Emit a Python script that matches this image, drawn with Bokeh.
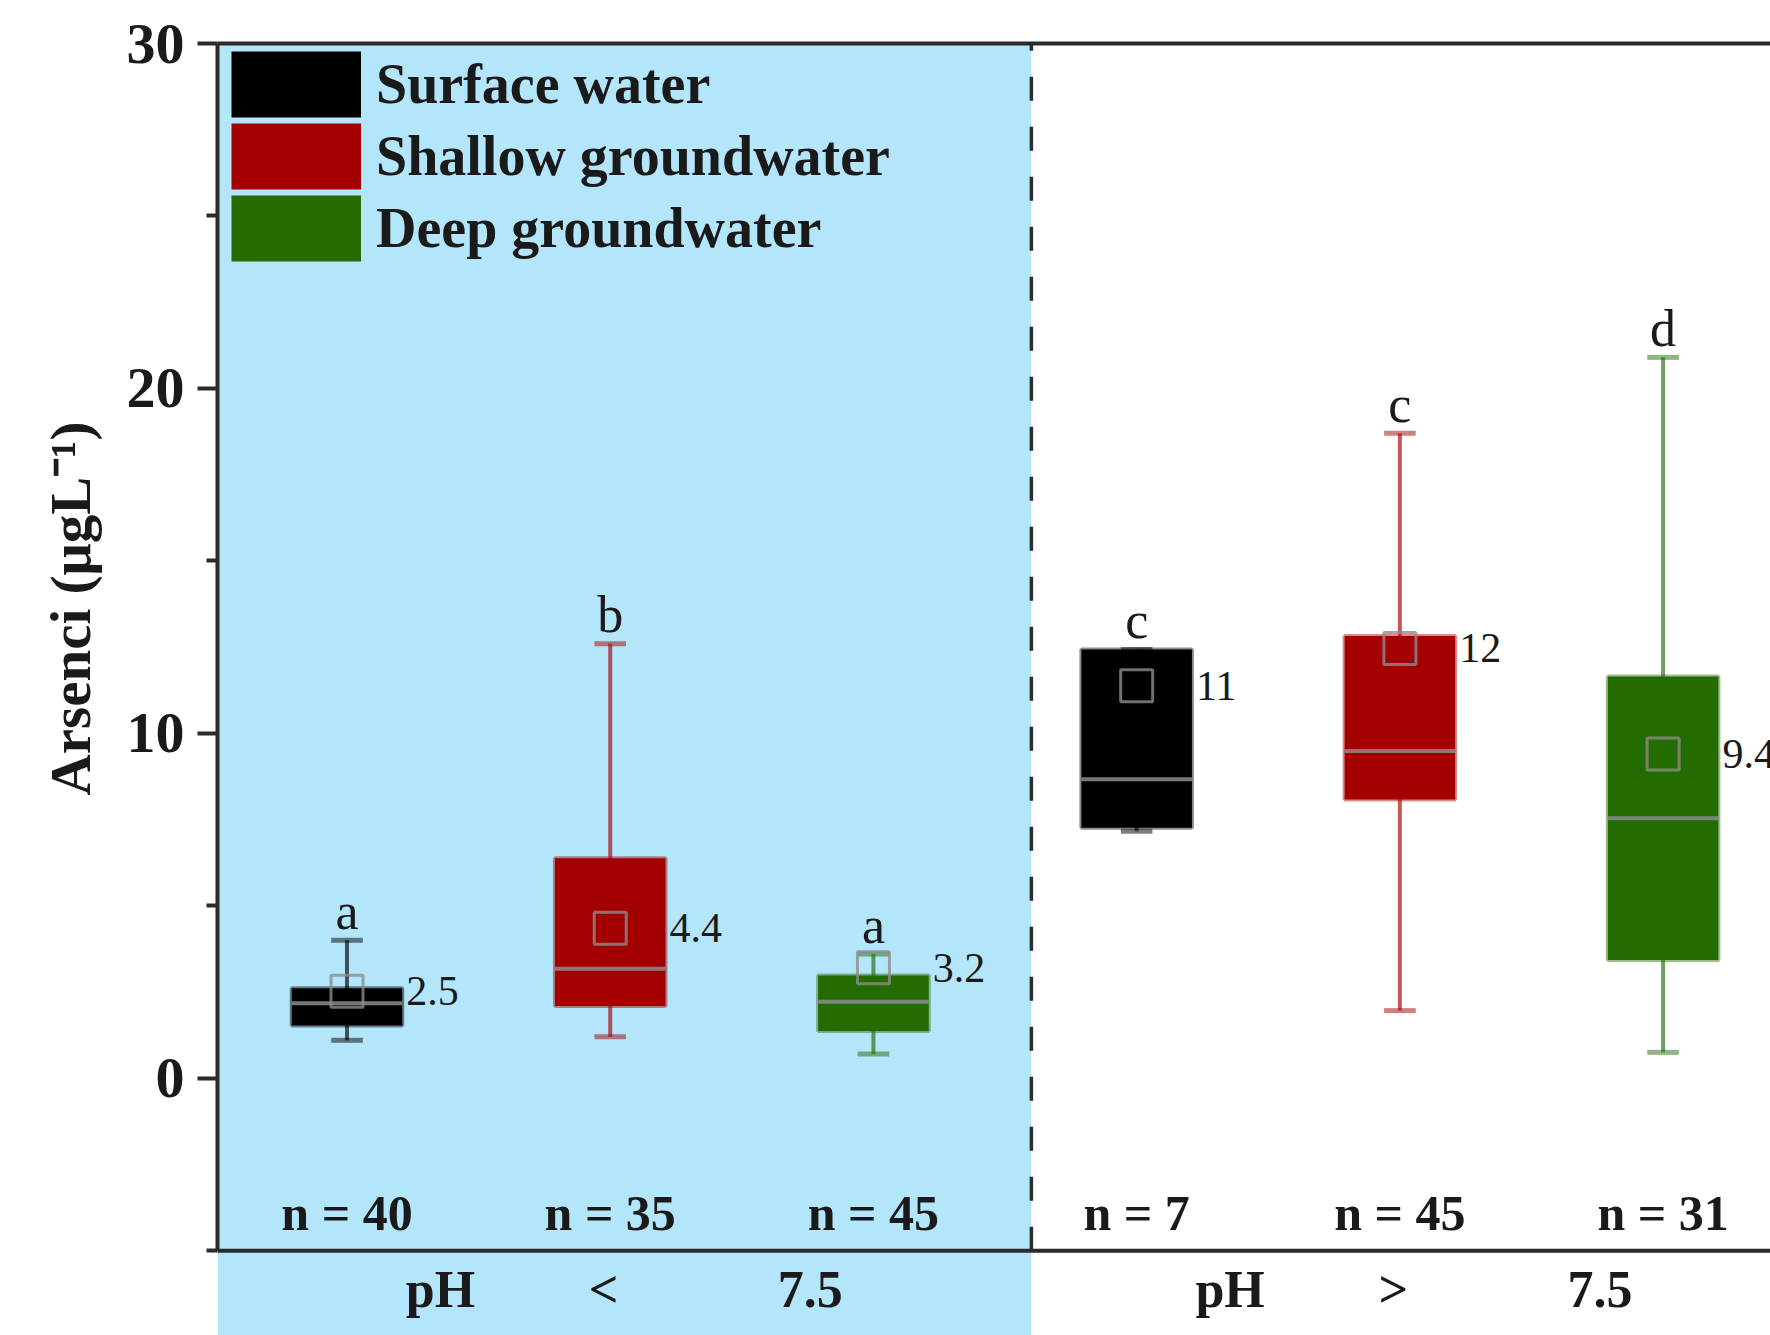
from bokeh.plotting import figure
from bokeh.models import (Range1d, LinearAxis, FixedTicker, Span, Legend, LegendItem,
                          ColumnDataSource, Title)
from bokeh.embed import file_html
from bokeh.resources import INLINE
from bokeh.core.properties import value

# ---------------- data ----------------
categories = ["Surface water", "Shallow groundwater", "Deep groundwater"]
ph_groups = ["pH < 7.5", "pH > 7.5"]
series_colors = ["#000000", "#A50000", "#246B00"]

whisker_low = [1.10, 1.20, 0.70, 7.16, 1.96, 0.75]
q1 = [1.53, 2.09, 1.37, 7.26, 8.08, 3.43]
median = [2.17, 3.17, 2.22, 8.67, 9.49, 7.54]
q3 = [2.61, 6.38, 2.98, 12.43, 12.82, 11.65]
whisker_high = [4.00, 12.60, 3.60, 12.43, 18.70, 20.90]
mean = [2.52, 4.35, 3.20, 11.38, 12.46, 9.40]
mean_labels = ["2.5", "4.4", "3.2", "11", "12", "9.4"]
letters = ["a", "b", "a", "c", "c", "d"]
n_counts = [40, 35, 45, 7, 45, 31]
y_ticks = [0, 10, 20, 30]
y_minor_ticks = [-5, 5, 15, 25]

# ---------------- style ----------------
FONT = "Liberation Serif"
INK = "#1a1a1a"
AXIS = "#2b2b2b"
BLUE = "#B3E5FB"
BOX_W = 0.42
CAP_W = 0.12
Y_MIN_AXIS = -5
N_LABEL_Y = -3.9
PH_LABEL_Y = -6.12

nb = len(categories) * len(ph_groups)
pos = [i + 1 for i in range(nb)]
cols = [series_colors[i % len(categories)] for i in range(nb)]
divider_x = len(categories) + 0.6

p = figure(width=1770, height=1335, output_backend="svg", toolbar_location=None,
           x_range=Range1d(0.508, 6.408), y_range=Range1d(-7.46, 30),
           min_border_left=217, min_border_top=43, min_border_bottom=0,
           min_border_right=0, x_axis_location=None)
p.grid.visible = False
p.outline_line_color = None
p.background_fill_color = "white"
p.border_fill_color = "white"

# shaded pH < 7.5 region
p.quad(left=[p.x_range.start], right=[divider_x], bottom=[p.y_range.start], top=[y_ticks[-1]],
       fill_color=BLUE, line_color=None)

# divider
p.segment(x0=[divider_x], y0=[Y_MIN_AXIS], x1=[divider_x], y1=[y_ticks[-1]],
          line_color=AXIS, line_width=3.5, line_dash="24 26")

# bottom axis line
p.add_layout(Span(location=Y_MIN_AXIS, dimension="width", line_color=AXIS, line_width=4))

src = ColumnDataSource(dict(
    x=pos, lo=whisker_low, q1=q1, med=median, q3=q3, hi=whisker_high, mean=mean,
    left=[x - BOX_W / 2 for x in pos], right=[x + BOX_W / 2 for x in pos],
    cl=[x - CAP_W / 2 for x in pos], cr=[x + CAP_W / 2 for x in pos],
    color=cols, mlab=mean_labels, letter=letters,
    top=[max(a, b) for a, b in zip(whisker_high, q3)],
    ntext=[f"n = {n}" for n in n_counts], ny=[N_LABEL_Y] * nb,
))

# whiskers and caps
p.segment(x0="x", y0="lo", x1="x", y1="hi", source=src, line_color="color",
          line_alpha=0.65, line_width=4)
p.segment(x0="cl", y0="lo", x1="cr", y1="lo", source=src, line_color="color",
          line_alpha=0.5, line_width=5)
p.segment(x0="cl", y0="hi", x1="cr", y1="hi", source=src, line_color="color",
          line_alpha=0.5, line_width=5)

# boxes
p.quad(left="left", right="right", bottom="q1", top="q3", source=src,
       fill_color="color", line_color="color", line_alpha=0.45, line_width=4)

# medians
p.segment(x0="left", y0="med", x1="right", y1="med", source=src,
          line_color="#8c8c8c", line_alpha=0.85, line_width=4)

# means
p.scatter(x="x", y="mean", source=src, marker="square", size=32, fill_color=None,
          line_color="#8c8c8c", line_alpha=0.8, line_width=3)

# mean labels
p.text(x="right", y="mean", text="mlab", source=src, x_offset=4,
       text_align="left", text_baseline="middle", text_font=value(FONT),
       text_font_size="42px", text_color=INK)

# significance letters
p.text(x="x", y="top", text="letter", source=src, y_offset=-29,
       text_align="center", text_baseline="alphabetic", text_font=value(FONT),
       text_font_size="52px", text_color=INK)

# n labels
p.text(x="x", y="ny", text="ntext", source=src, text_align="center",
       text_baseline="middle", text_font=value(FONT), text_font_size="50px",
       text_font_style="bold", text_color=INK)

# pH group labels (tokens spread under each group)
tok_x, tok_t = [], []
token_offsets = [-0.645, -0.025, 0.76]
for g, lab in enumerate(ph_groups):
    center = g * len(categories) + 2
    for off, tok in zip(token_offsets, lab.split()):
        tok_x.append(center + off)
        tok_t.append(tok)
p.text(x=tok_x, y=[PH_LABEL_Y] * len(tok_x), text=tok_t, text_align="center",
       text_baseline="middle", text_font=value(FONT), text_font_size="52px",
       text_font_style="bold", text_color=INK)

# y axis
yax = p.yaxis[0]
yax.ticker = FixedTicker(ticks=y_ticks, minor_ticks=y_minor_ticks)
yax.bounds = (Y_MIN_AXIS, y_ticks[-1])
yax.axis_line_width = 4
yax.axis_line_color = AXIS
yax.major_tick_line_width = 4
yax.major_tick_line_color = AXIS
yax.major_tick_out = 20
yax.major_tick_in = 0
yax.minor_tick_line_width = 4
yax.minor_tick_line_color = AXIS
yax.minor_tick_out = 11
yax.minor_tick_in = 0
yax.major_label_text_font = FONT
yax.major_label_text_font_size = "58px"
yax.major_label_text_font_style = "bold"
yax.major_label_text_color = INK
yax.major_label_standoff = 13

# top frame line
top_ax = LinearAxis(ticker=FixedTicker(ticks=[]), axis_line_width=4, axis_line_color=AXIS,
                    major_tick_line_color=None, minor_tick_line_color=None,
                    major_label_text_font_size="0px")
p.add_layout(top_ax, "above")

# y axis title
p.add_layout(Title(text="Arsenci (μgL⁻¹)", align="left", offset=540, standoff=44,
                   text_font=FONT, text_font_size="57px", text_font_style="bold",
                   text_color=INK), "left")

# legend (swatch renderers hold no visible data)
nan = float("nan")
items = []
for c, name in zip(series_colors, categories):
    r = p.line(x=[nan, nan], y=[nan, nan], line_color=c, line_width=66)
    items.append(LegendItem(label=name, renderers=[r]))
legend = Legend(items=items, location=(14, 1071), glyph_width=130, glyph_height=72,
                label_height=72, spacing=0, padding=0, margin=0, label_standoff=15,
                label_text_font=FONT, label_text_font_size="56px",
                label_text_font_style="bold", label_text_color=INK,
                background_fill_alpha=0, border_line_color=None)
p.add_layout(legend)

open("out.html", "w").write(file_html(p, INLINE))
